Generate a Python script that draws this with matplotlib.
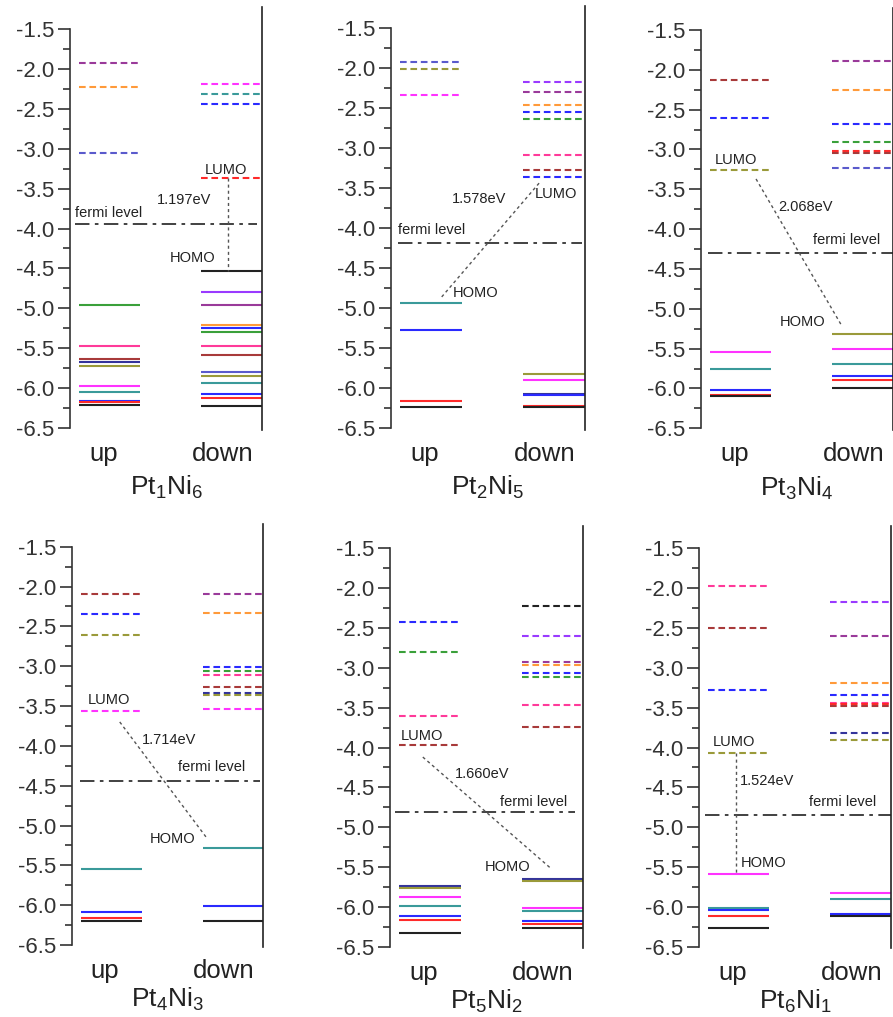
import matplotlib
matplotlib.use('Agg')
import matplotlib.pyplot as plt
from matplotlib.ticker import FixedLocator

plt.rcParams['font.family'] = ['Liberation Sans', 'DejaVu Sans']
plt.rcParams['mathtext.fontset'] = 'custom'
plt.rcParams['mathtext.rm'] = 'Liberation Sans'
plt.rcParams['mathtext.it'] = 'Liberation Sans'

# colour codes used for the levels
COL = {'k': '#222222', 'rd': '#ff2a2a', 'bl': '#2a2aff', 'mg': '#ff33ff', 'ol': '#9a9a3a',
       'nv': '#34349a', 'pu': '#9a3a9a', 'br': '#a83a3a', 'tl': '#3a9a9a', 'or': '#ff9a3a',
       'vi': '#9a3aff', 'pk': '#ff3a9a', 'g': '#3aa03a', 'sb': '#5a5acc'}

titles = [r'Pt$_1$Ni$_6$', r'Pt$_2$Ni$_5$', r'Pt$_3$Ni$_4$',
          r'Pt$_4$Ni$_3$', r'Pt$_5$Ni$_2$', r'Pt$_6$Ni$_1$']
gaps = ['1.197eV', '1.578eV', '2.068eV', '1.714eV', '1.660eV', '1.524eV']
fermi = [-3.94, -4.18, -4.30, -4.44, -4.81, -4.85]
homo = [-4.53, -4.94, -5.31, -5.28, -5.65, -5.59]
lumo = [-3.37, -3.36, -3.26, -3.56, -3.97, -4.07]
yticks = [-6.5, -6.0, -5.5, -5.0, -4.5, -4.0, -3.5, -3.0, -2.5, -2.0, -1.5]
yminor = [-6.25, -5.75, -5.25, -4.75, -4.25, -3.75, -3.25, -2.75, -2.25, -1.75]

# Pt1Ni6
p1_up_occ = [-4.96, -5.47, -5.63, -5.67, -5.72, -5.97, -6.05, -6.16, -6.18, -6.21]
p1_up_occ_c = ['g', 'pk', 'br', 'nv', 'ol', 'mg', 'tl', 'bl', 'rd', 'k']
p1_up_emp = [-1.93, -2.23, -3.06]
p1_up_emp_c = ['pu', 'or', 'sb']
p1_dn_occ = [-4.53, -4.79, -4.96, -5.21, -5.25, -5.30, -5.47, -5.58, -5.80, -5.85, -5.93, -6.08, -6.13, -6.22]
p1_dn_occ_c = ['k', 'vi', 'pu', 'or', 'bl', 'g', 'pk', 'br', 'sb', 'ol', 'tl', 'bl', 'rd', 'k']
p1_dn_emp = [-2.19, -2.31, -2.44, -3.37]
p1_dn_emp_c = ['mg', 'tl', 'bl', 'rd']

# Pt2Ni5
p2_up_occ = [-4.94, -5.27, -6.16, -6.24]
p2_up_occ_c = ['tl', 'bl', 'rd', 'k']
p2_up_emp = [-1.92, -2.01, -2.34]
p2_up_emp_c = ['sb', 'ol', 'mg']
p2_dn_occ = [-5.83, -5.90, -6.07, -6.09, -6.22, -6.24]
p2_dn_occ_c = ['ol', 'mg', 'nv', 'bl', 'rd', 'k']
p2_dn_emp = [-2.17, -2.30, -2.46, -2.55, -2.63, -3.09, -3.27, -3.36]
p2_dn_emp_c = ['vi', 'pu', 'or', 'bl', 'g', 'pk', 'br', 'bl']

# Pt3Ni4
p3_up_occ = [-5.54, -5.75, -6.02, -6.08, -6.09]
p3_up_occ_c = ['mg', 'tl', 'bl', 'rd', 'k']
p3_up_emp = [-2.13, -2.60, -3.26]
p3_up_emp_c = ['br', 'bl', 'ol']
p3_dn_occ = [-5.31, -5.51, -5.69, -5.84, -5.89, -6.00]
p3_dn_occ_c = ['ol', 'mg', 'tl', 'bl', 'rd', 'k']
p3_dn_emp = [-1.89, -2.25, -2.68, -2.90, -3.02, -3.04, -3.23]
p3_dn_emp_c = ['pu', 'or', 'bl', 'g', 'rd', 'br', 'sb']

# Pt4Ni3
p4_up_occ = [-5.55, -6.09, -6.16, -6.20]
p4_up_occ_c = ['tl', 'bl', 'rd', 'k']
p4_up_emp = [-2.09, -2.35, -2.61, -3.56]
p4_up_emp_c = ['br', 'bl', 'ol', 'mg']
p4_dn_occ = [-5.28, -6.01, -6.20]
p4_dn_occ_c = ['tl', 'bl', 'k']
p4_dn_emp = [-2.09, -2.33, -3.01, -3.06, -3.11, -3.26, -3.34, -3.36, -3.54]
p4_dn_emp_c = ['pu', 'or', 'bl', 'g', 'pk', 'br', 'nv', 'ol', 'mg']

# Pt5Ni2
p5_up_occ = [-5.74, -5.76, -5.87, -5.99, -6.12, -6.16, -6.33]
p5_up_occ_c = ['nv', 'ol', 'mg', 'tl', 'bl', 'rd', 'k']
p5_up_emp = [-2.43, -2.80, -3.61, -3.97]
p5_up_emp_c = ['bl', 'g', 'pk', 'br']
p5_dn_occ = [-5.65, -5.68, -6.02, -6.05, -6.18, -6.22, -6.26]
p5_dn_occ_c = ['nv', 'ol', 'mg', 'tl', 'bl', 'rd', 'k']
p5_dn_emp = [-2.22, -2.60, -2.93, -2.97, -3.06, -3.11, -3.47, -3.74]
p5_dn_emp_c = ['k', 'vi', 'pu', 'or', 'bl', 'g', 'pk', 'br']

# Pt6Ni1
p6_up_occ = [-5.59, -6.01, -6.04, -6.12, -6.26]
p6_up_occ_c = ['mg', 'tl', 'bl', 'rd', 'k']
p6_up_emp = [-1.97, -2.50, -3.28, -4.07]
p6_up_emp_c = ['pk', 'br', 'bl', 'ol']
p6_dn_occ = [-5.82, -5.90, -6.09, -6.12]
p6_dn_occ_c = ['mg', 'tl', 'bl', 'k']
p6_dn_emp = [-2.17, -2.60, -3.19, -3.34, -3.44, -3.46, -3.48, -3.82, -3.91]
p6_dn_emp_c = ['vi', 'pu', 'or', 'bl', 'pk', 'rd', 'br', 'nv', 'ol']

levels = [
    (p1_up_occ, p1_up_occ_c, p1_up_emp, p1_up_emp_c, p1_dn_occ, p1_dn_occ_c, p1_dn_emp, p1_dn_emp_c),
    (p2_up_occ, p2_up_occ_c, p2_up_emp, p2_up_emp_c, p2_dn_occ, p2_dn_occ_c, p2_dn_emp, p2_dn_emp_c),
    (p3_up_occ, p3_up_occ_c, p3_up_emp, p3_up_emp_c, p3_dn_occ, p3_dn_occ_c, p3_dn_emp, p3_dn_emp_c),
    (p4_up_occ, p4_up_occ_c, p4_up_emp, p4_up_emp_c, p4_dn_occ, p4_dn_occ_c, p4_dn_emp, p4_dn_emp_c),
    (p5_up_occ, p5_up_occ_c, p5_up_emp, p5_up_emp_c, p5_dn_occ, p5_dn_occ_c, p5_dn_emp, p5_dn_emp_c),
    (p6_up_occ, p6_up_occ_c, p6_up_emp, p6_up_emp_c, p6_dn_occ, p6_dn_occ_c, p6_dn_emp, p6_dn_emp_c),
]

# layout: axes placement in pixels (left, right, y of -1.5, y of -6.5)
W, H = 893, 1017
boxes = [(70, 262, 29, 428), (390.5, 585, 28.3, 428), (701, 893, 30, 428.3),
         (72, 263, 546.7, 945), (390, 583, 548.3, 946.7), (699, 891, 548.3, 946.7)]
# annotation layout per panel: fermi text, fermi line x-range, gap text,
# LUMO text, HOMO text, connector ends
ann = [
    dict(ft=(0.08, -3.80), fl=(0.08, 2.92), gt=(1.36, -3.64), lt=(2.11, -3.27), ht=(1.56, -4.37),
         cn=((2.47, -3.37), (2.47, -4.53))),
    dict(ft=(0.12, -4.02), fl=(0.12, 2.96), gt=(0.95, -3.63), lt=(2.23, -3.57), ht=(0.96, -4.81),
         cn=((0.79, -4.86), (2.31, -3.42))),
    dict(ft=(1.75, -4.13), fl=(0.11, 3.0), gt=(1.20, -3.72), lt=(0.22, -3.13), ht=(1.23, -5.16),
         cn=((0.86, -3.37), (2.19, -5.20))),
    dict(ft=(1.66, -4.26), fl=(0.13, 2.95), gt=(1.10, -3.93), lt=(0.24, -3.42), ht=(1.22, -5.17),
         cn=((0.75, -3.70), (2.12, -5.16))),
    dict(ft=(1.71, -4.68), fl=(0.08, 2.88), gt=(1.01, -4.33), lt=(0.16, -3.85), ht=(1.48, -5.50),
         cn=((0.51, -4.12), (2.49, -5.51))),
    dict(ft=(1.72, -4.69), fl=(0.10, 3.0), gt=(0.64, -4.42), lt=(0.22, -3.93), ht=(0.66, -5.45),
         cn=((0.58, -4.07), (0.58, -5.59))),
]

UP = (0.14, 1.1)
DN = (2.05, 3.0)
YLO, YHI = -6.52, -1.22

fig = plt.figure(figsize=(W / 100, H / 100), dpi=100)

for i in range(6):
    xl, xr, y15, y65 = boxes[i]
    ppu = (y65 - y15) / 5.0
    ytop = y15 - (YHI + 1.5) * ppu
    ybot = y65 + (-6.5 - YLO) * ppu
    ax = fig.add_axes([xl / W, 1 - ybot / H, (xr - xl) / W, (ybot - ytop) / H])
    up_occ, up_occ_c, up_emp, up_emp_c, dn_occ, dn_occ_c, dn_emp, dn_emp_c = levels[i]

    for v, c in zip(up_occ, up_occ_c):
        ax.hlines(v, *UP, color=COL[c], lw=1.5)
    for v, c in zip(dn_occ, dn_occ_c):
        ax.hlines(v, *DN, color=COL[c], lw=1.5)
    for v, c in zip(up_emp, up_emp_c):
        ax.plot(UP, [v, v], color=COL[c], lw=1.5, dashes=(3.2, 1.8))
    for v, c in zip(dn_emp, dn_emp_c):
        ax.plot(DN, [v, v], color=COL[c], lw=1.5, dashes=(3.2, 1.8))

    a = ann[i]
    ax.plot(a['fl'], [fermi[i], fermi[i]], color='#333333', lw=1.3, dashes=(8, 3, 2, 3))
    (x0, y0), (x1, y1) = a['cn']
    ax.plot([x0, x1], [y0, y1], color='#555555', lw=1.0, dashes=(2.2, 2.2))
    ax.text(*a['ft'], 'fermi level', fontsize=10.5, color='#222222', ha='left', va='center')
    ax.text(*a['gt'], gaps[i], fontsize=10.5, color='#222222', ha='left', va='center')
    ax.text(*a['lt'], 'LUMO', fontsize=10.5, color='#222222', ha='left', va='center')
    ax.text(*a['ht'], 'HOMO', fontsize=10.5, color='#222222', ha='left', va='center')

    ax.set_xlim(0, 3)
    ax.set_ylim(YLO, YHI)
    ax.spines['top'].set_visible(False)
    ax.spines['bottom'].set_visible(False)
    ax.spines['left'].set_bounds(-6.5, -1.5)
    ax.spines['left'].set_color('#333333')
    ax.spines['left'].set_linewidth(1.2)
    ax.spines['right'].set_color('#222222')
    ax.spines['right'].set_linewidth(1.2)
    ax.set_yticks(yticks)
    ax.set_yticklabels(['%.1f' % t for t in yticks])
    ax.yaxis.set_minor_locator(FixedLocator(yminor))
    ax.tick_params(axis='y', which='major', length=9, width=1.2, color='#333333',
                   labelsize=16, labelcolor='#333333', pad=2, right=False)
    ax.tick_params(axis='y', which='minor', length=5, width=1.2, color='#333333', right=False)
    ax.set_xticks([0.52, 2.38])
    ax.set_xticklabels(['up', 'down'], fontsize=18.5, color='#222222')
    ax.tick_params(axis='x', length=0, pad=9)
    tb = -0.155 if i < 3 else -0.143
    ax.text(0.5, tb, titles[i], transform=ax.transAxes, ha='center', va='baseline',
            fontsize=19, color='#222222')

fig.savefig('out.png', dpi=100)
